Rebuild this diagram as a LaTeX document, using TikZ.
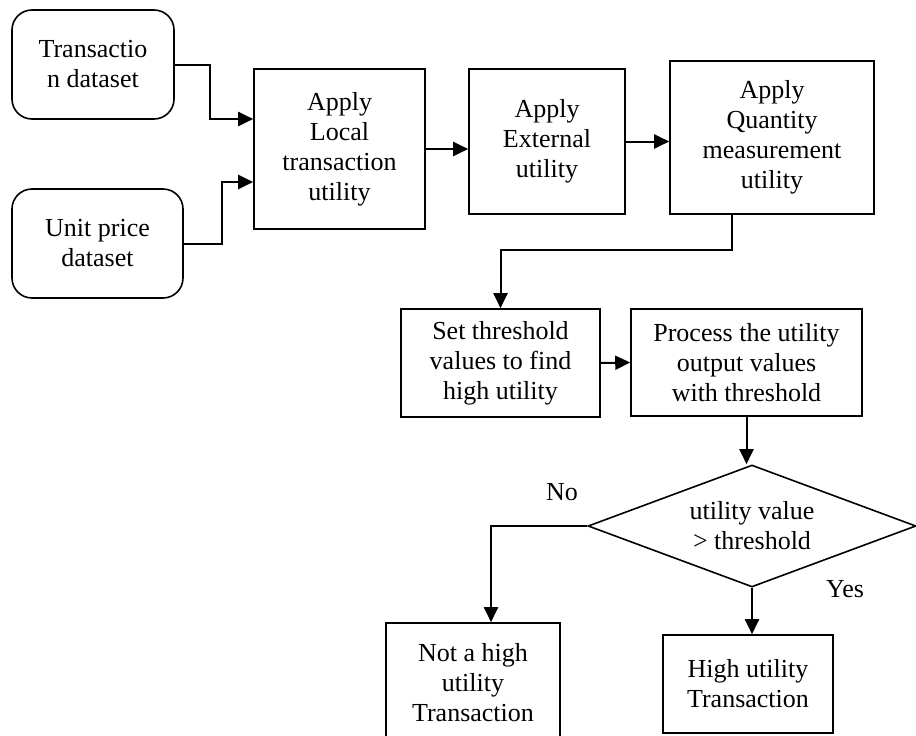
\documentclass[tikz,border=0pt]{standalone}
\usepackage{fontspec}
\setmainfont{Liberation Serif}
\usetikzlibrary{shapes.geometric,arrows.meta}
\begin{document}
\begin{tikzpicture}[x=1pt,y=-1pt,
  every node/.style={font=\fontsize{26}{30}\selectfont,align=center,inner sep=0pt},
  box/.style={draw,line width=1.6pt},
  rbox/.style={box,rounded corners=20pt},
  arr/.style={line width=2pt,-{Triangle[length=15pt,width=14pt]}}]
\clip (0,0) rectangle (916,736);
\node[rbox,minimum width=162pt,minimum height=109pt] (tds) at (93,64.5) {Transactio\\n dataset};
\node[rbox,minimum width=171pt,minimum height=109pt] (upd) at (97.5,243.5) {Unit price\\dataset};
\node[box,minimum width=171pt,minimum height=160pt] (local) at (339.5,149) {Apply\\Local\\transaction\\utility};
\node[box,minimum width=156pt,minimum height=145pt] (ext) at (547,141.5) {Apply\\External\\utility};
\node[box,minimum width=204pt,minimum height=153pt] (qty) at (772,137.5) {Apply\\Quantity\\measurement\\utility};
\node[box,minimum width=199pt,minimum height=108pt] (thr) at (500.5,363) {Set threshold\\values to find\\high utility};
\node[box,minimum width=231pt,minimum height=107pt] (proc) at (746.5,362.5) {Process the utility\\output values\\with threshold};
\node[box,diamond,aspect=2.7,minimum width=328pt,minimum height=122pt] (dec) at (752,526) {utility value\\> threshold};
\node[box,minimum width=174pt,minimum height=120pt] (nhigh) at (473,683) {Not a high\\utility\\Transaction};
\node[box,minimum width=170pt,minimum height=98pt] (high) at (748,684) {High utility\\Transaction};
\node (no) at (562,492) {No};
\node (yes) at (845,589) {Yes};
\draw[arr] (tds.east) -- ++(35,0) |- ([yshift=30pt]local.west);
\draw[arr] (upd.east) -- ++(38,0) |- ([yshift=-33pt]local.west);
\draw[arr] (local.east) -- (local.east -| ext.west);
\draw[arr] (ext.east) -- (ext.east -| qty.west);
\draw[arr] ([xshift=-40pt]qty.south) -- ++(0,35) -| (thr.north);
\draw[arr] (thr.east) -- (proc.west);
\draw[arr] (proc.south) -- (proc.south |- dec.north);
\draw[arr] (dec.west) -| ([xshift=18pt]nhigh.north);
\draw[arr] (dec.south) -- (dec.south |- high.north);
\end{tikzpicture}
\end{document}
